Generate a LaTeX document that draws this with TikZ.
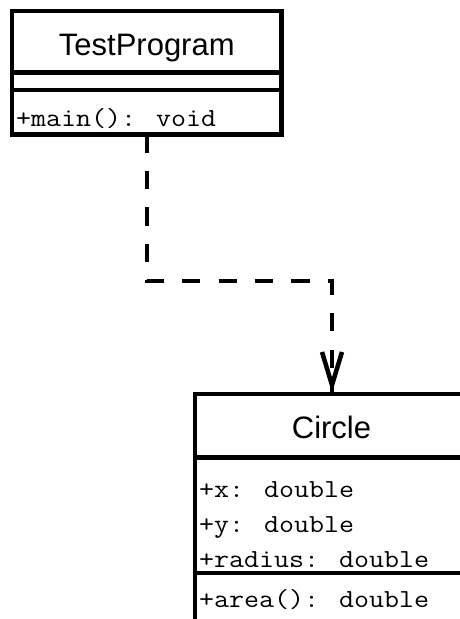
\documentclass[tikz,border=0pt]{standalone}
\usepackage{fontspec}
\setmainfont{Liberation Sans}
\usetikzlibrary{calc}
\newcommand{\memtext}[1]{\scalebox{1.12}[1]{\ttfamily\fontsize{26}{30}\selectfont #1}}
\begin{document}
\begin{tikzpicture}[x=1pt,y=-1pt,
  classbox/.style={draw=black, line width=4.5pt, rectangle, inner sep=0pt, outer sep=0pt, anchor=north west},
  sepline/.style={line width=4.5pt},
  classname/.style={font=\fontsize{31}{36}\selectfont, inner sep=0pt, anchor=base},
  member/.style={inner sep=0pt, anchor=base west},
  depend/.style={line width=4.5pt, dash pattern=on 18.2pt off 18.2pt},
  opentip/.style={line width=4.5pt, miter limit=10}]
\useasboundingbox (0,0) rectangle (460,619);
\clip (0,0) rectangle (460,619);
\fill[white] (0,0) rectangle (460,619);
% TestProgram class
\node[classbox, minimum width=269.5pt, minimum height=123.5pt] (tp) at (12,11) {};
\coordinate (tpsepA) at (0,72.5);
\coordinate (tpsepB) at (0,90);
\draw[sepline] (tp.west |- tpsepA) -- (tp.east |- tpsepA);
\draw[sepline] (tp.west |- tpsepB) -- (tp.east |- tpsepB);
\node[classname] (tpname) at (146.75,55) {TestProgram};
\node[member] (tpop) at (16,126) {\memtext{+main(): void}};
% Circle class
\node[classbox, minimum width=273pt, minimum height=260pt] (ci) at (195,394) {};
\coordinate (cisepA) at (0,457.5);
\coordinate (cisepB) at (0,573);
\draw[sepline] (ci.west |- cisepA) -- (ci.east |- cisepA);
\draw[sepline] (ci.west |- cisepB) -- (ci.east |- cisepB);
\node[classname] (ciname) at (331.5,438) {Circle};
\node[member] (cix) at (199,497) {\memtext{+x: double}};
\node[member] (ciy) at (199,532) {\memtext{+y: double}};
\node[member] (cir) at (199,567) {\memtext{+radius: double}};
\node[member] (cia) at (199,607) {\memtext{+area(): double}};
% dependency connector
\coordinate (elbow) at (0,281);
\coordinate (cin) at (332,394);
\coordinate (tipend) at (332,385);
\draw[depend] (tp.south) -- (tp.south |- elbow) -| (cin);
\draw[opentip] ($(tipend)+(-10,-33)$) -- (tipend) -- ($(tipend)+(10,-33)$);
\end{tikzpicture}
\end{document}
